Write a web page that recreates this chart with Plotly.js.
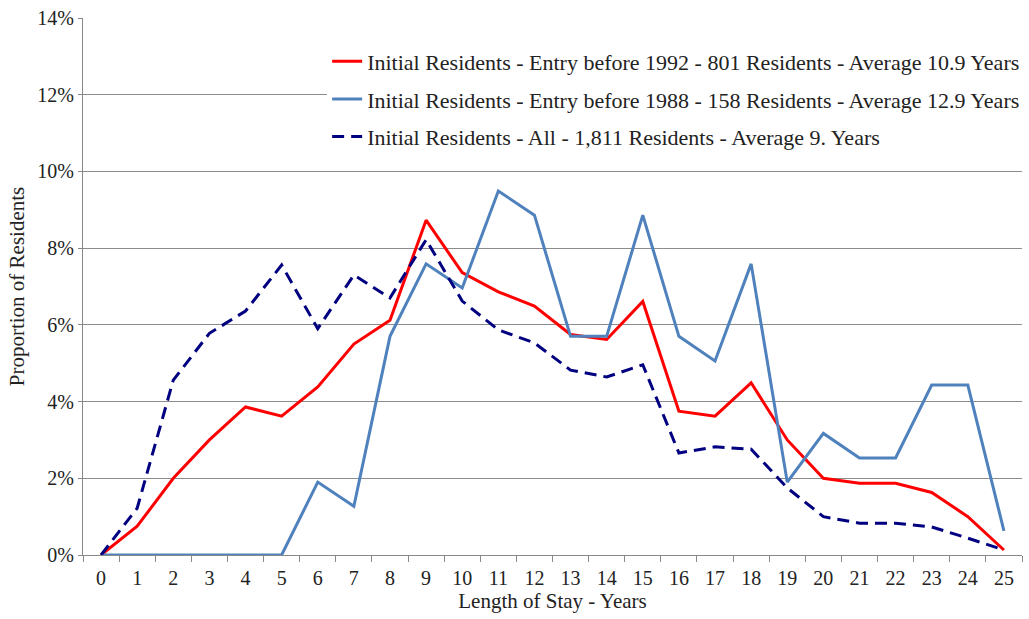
<!DOCTYPE html>
<html>
<head>
<meta charset="utf-8">
<script src="https://cdn.plot.ly/plotly-3.0.1.min.js"></script>
<style>
  html, body { margin: 0; padding: 0; background: #fff; }
  #chart { width: 1029px; height: 619px; }
</style>
</head>
<body>
<div id="chart"></div>
<script>
    const years = ['0','1','2','3','4','5','6','7','8','9','10','11','12','13','14','15','16','17','18','19','20','21','22','23','24','25'];

    // proportions in percent
    const before1992 = [0, 0.75, 2.0, 3.0, 3.86, 3.62, 4.38, 5.5, 6.12, 8.73, 7.36, 6.86, 6.49, 5.75, 5.62, 6.61,
        3.75, 3.62, 4.49, 3.0, 2.0, 1.87, 1.87, 1.63, 1.0, 0.13];
    const before1988 = [0, 0, 0, 0, 0, 0, 1.9, 1.27, 5.7, 7.59, 6.96, 9.49, 8.86, 5.7, 5.7, 8.86,
        5.7, 5.06, 7.59, 1.9, 3.17, 2.53, 2.53, 4.43, 4.43, 0.63];
    const allResidents = [0, 1.22, 4.56, 5.78, 6.36, 7.56, 5.9, 7.3, 6.7, 8.22, 6.62, 5.87, 5.53, 4.82, 4.64, 4.96,
        2.66, 2.82, 2.76, 1.75, 1.0, 0.83, 0.83, 0.73, 0.44, 0.13];

    const seriesNames = [
        'Initial Residents - Entry before 1992 - 801 Residents - Average 10.9 Years',
        'Initial Residents - Entry before 1988 - 158 Residents - Average 12.9 Years',
        'Initial Residents - All - 1,811 Residents - Average 9. Years'
    ];

    const pct = arr => arr.map(v => v / 100);
    const FONT = '"Liberation Serif", "Times New Roman", Times, serif';

    const traces = [
        { x: years, y: pct(before1992), name: seriesNames[0], legendgroup: 'a', type: 'scatter', mode: 'lines',
          line: { color: '#ff0000', width: 3 } },
        { x: years, y: pct(before1988), name: seriesNames[1], legendgroup: 'b', type: 'scatter', mode: 'lines',
          line: { color: '#4f81bd', width: 3 } },
        { x: years, y: pct(allResidents), name: seriesNames[2], legendgroup: 'c', type: 'scatter', mode: 'lines',
          line: { color: '#000080', width: 3, dash: '12px,7px' } }
    ];

    const layout = {
        width: 1029, height: 619,
        margin: { l: 83, r: 7, t: 18, b: 64, autoexpand: false },
        paper_bgcolor: '#fff', plot_bgcolor: '#fff',
        font: { family: FONT, size: 20, color: '#222' },
        showlegend: true,
        legend: {
            x: 0.26, y: 0.958, xanchor: 'left', yanchor: 'top',
            bgcolor: '#fff', borderwidth: 0,
            traceorder: 'grouped', tracegroupgap: 6,
            font: { family: FONT, size: 22, color: '#222' }
        },
        xaxis: {
            type: 'category', range: [-0.5, 25.5],
            tickson: 'boundaries', ticks: 'outside', ticklen: 6, tickcolor: '#888',
            ticklabelstandoff: 5,
            showline: true, linecolor: '#888', linewidth: 1,
            showgrid: false, zeroline: false,
            tickfont: { family: FONT, size: 20, color: '#222' },
            title: { text: 'Length of Stay - Years', standoff: 4, font: { family: FONT, size: 21, color: '#222' } }
        },
        yaxis: {
            range: [0, 0.14], dtick: 0.02, tickformat: '.0%',
            ticks: 'outside', ticklen: 4, tickcolor: '#888',
            showline: true, linecolor: '#888', linewidth: 1,
            showgrid: true, gridcolor: '#8c8c8c', gridwidth: 1, zeroline: false,
            tickfont: { family: FONT, size: 20, color: '#222' },
            title: { text: 'Proportion of Residents', standoff: 6, font: { family: FONT, size: 21, color: '#222' } }
        }
    };

    Plotly.newPlot('chart', traces, layout, { displayModeBar: false, staticPlot: true });
</script>
</body>
</html>
